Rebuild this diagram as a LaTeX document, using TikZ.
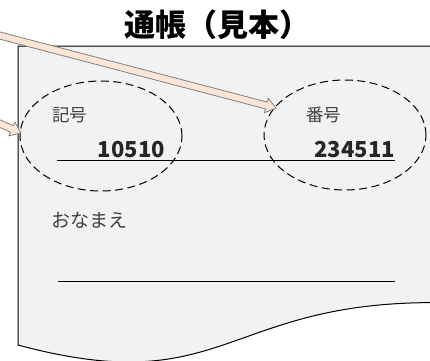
\documentclass[tikz,border=0pt]{standalone}
\usepackage{fontspec}
\newfontfamily\jp{Noto Sans CJK JP}
\usetikzlibrary{calc,shapes.geometric}
\definecolor{docfill}{HTML}{F2F2F2}
\definecolor{peach}{HTML}{FBE5D6}
\definecolor{arrowline}{HTML}{808080}
\definecolor{labelgray}{HTML}{404040}
\definecolor{numdark}{HTML}{262626}
\tikzset{
  doc/.style={draw=black, line width=1pt, fill=docfill},
  ring/.style={shape=ellipse, draw=black, line width=1pt, dash pattern=on 8pt off 4.5pt, inner sep=0pt, minimum width=162pt, minimum height=110pt},
  rule/.style={draw=black, line width=1pt},
  lbl/.style={font=\jp\fontsize{17.5}{17.5}\selectfont, text=labelgray, inner sep=0pt, anchor=base west},
  num/.style={font=\jp\bfseries\fontsize{22}{22}\selectfont, text=numdark, inner sep=0pt, anchor=base east},
  blockarrow/.style={draw=arrowline, line width=0.8pt, fill=peach, line join=miter}
}
\newcommand{\blkarrow}[2]{%
  \coordinate (hb) at ($(#2)!10pt!(#1)$);
  \path[blockarrow] ($(#1)!3.5pt!90:(#2)$) -- ($(hb)!3.5pt!90:(#2)$) -- ($(hb)!7.5pt!90:(#2)$) -- (#2)
    -- ($(hb)!7.5pt!-90:(#2)$) -- ($(hb)!3.5pt!-90:(#2)$) -- ($(#1)!3.5pt!-90:(#2)$) -- cycle;
}
\begin{document}
\begin{tikzpicture}[x=1pt,y=-1pt]
\useasboundingbox (0,0) rectangle (430,360);
\clip (0,0) rectangle (430,360);
% document shape
\path[doc] (18,46) -- (433,46) -- (433,302.6) .. controls (224,302.6) and (224,400.4) .. (18,345) -- cycle;
% title
\node[font=\jp\bfseries\fontsize{31}{31}\selectfont, inner sep=0pt, anchor=base west] (title) at (124,36) {通帳（見本）};
% dashed ellipses
\node[ring] (kigoring) at (101,136) {};
\node[ring] (bangoring) at (345,135) {};
% labels
\node[lbl] (kigo) at (52,121) {記号};
\node[lbl] (bango) at (306,121) {番号};
\node[num] (kigonum) at (165,157) {10510};
\node[num] (bangonum) at (395,157) {234511};
\node[lbl, font=\jp\fontsize{19}{19}\selectfont] (namae) at (51,227) {おなまえ};
% rules
\coordinate (r1a) at (57,160.5);
\coordinate (r1b) at (395,160.5);
\draw[rule] (r1a) -- (r1b);
\coordinate (r2a) at (58,281);
\coordinate (r2b) at (395,281);
\draw[rule] (r2a) -- (r2b);
% arrows
\coordinate (a1s) at (-6,34);
\coordinate (a1t) at (276,108);
\blkarrow{a1s}{a1t}
\coordinate (a2s) at (-6,121);
\coordinate (a2t) at (21,133);
\blkarrow{a2s}{a2t}
\end{tikzpicture}
\end{document}
